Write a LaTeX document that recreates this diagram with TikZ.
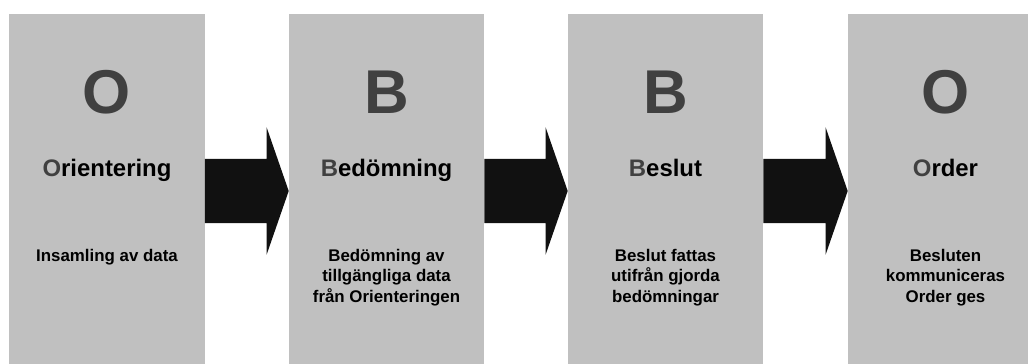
\documentclass[tikz,border=0pt]{standalone}
\usepackage{fontspec}
\setmainfont{Liberation Sans}
\usetikzlibrary{calc}

\definecolor{boxgray}{HTML}{C0C0C0}
\definecolor{lettergray}{HTML}{404040}
\definecolor{arrowblack}{HTML}{111111}

\begin{document}
\begin{tikzpicture}
  [
    x = 0.025cm, y = 0.025cm,
    phase/.style = {fill=boxgray,minimum width=4.875cm,minimum height=8.85cm,inner sep=0},
    initial/.style = {anchor=base,text=lettergray,font=\fontsize{44}{44}\selectfont\bfseries},
    title/.style = {anchor=base,font=\fontsize{17}{20}\selectfont\bfseries},
    info/.style = {anchor=north,inner sep=0,align=center,font=\fontsize{12}{14.5}\selectfont\bfseries},
    block arrow/.style = {fill=arrowblack,
      to path={($(\tikztostart)+(0,32)$) -- ($(\tikztotarget)+(-22,32)$) -- ($(\tikztotarget)+(-22,63.5)$)
               -- (\tikztotarget) -- ($(\tikztotarget)+(-22,-63.5)$) -- ($(\tikztotarget)+(-22,-32)$)
               -- ($(\tikztostart)+(0,-32)$) -- cycle}},
  ]

  \clip (0,0) rectangle (1028,363);

  \node[phase] (orientering) at (107,172)   {};
  \node[phase] (bedomning)   at (386.5,172) {};
  \node[phase] (beslut)      at (665.5,172) {};
  \node[phase] (order)       at (945.5,172) {};

  \node[initial] (o1) at (107,249)   {O};
  \node[initial] (b1) at (386.5,249) {B};
  \node[initial] (b2) at (665.5,249) {B};
  \node[initial] (o2) at (945.5,249) {O};

  \node[title] (t1) at (107,187)   {{\color{lettergray}O}rientering};
  \node[title] (t2) at (386.5,187) {{\color{lettergray}B}edömning};
  \node[title] (t3) at (665.5,187) {{\color{lettergray}B}eslut};
  \node[title] (t4) at (945.5,187) {{\color{lettergray}O}rder};

  \node[info] (i1) at (107,114)   {Insamling av data};
  \node[info] (i2) at (386.5,114) {Bedömning av\\tillgängliga data\\från Orienteringen};
  \node[info] (i3) at (665.5,114) {Beslut fattas\\utifrån gjorda\\bedömningar};
  \node[info] (i4) at (945.5,114) {Besluten\\kommuniceras\\Order ges};

  \path[block arrow] (orientering.east) to (bedomning.west);
  \path[block arrow] (bedomning.east)   to (beslut.west);
  \path[block arrow] (beslut.east)      to (order.west);

\end{tikzpicture}
\end{document}
